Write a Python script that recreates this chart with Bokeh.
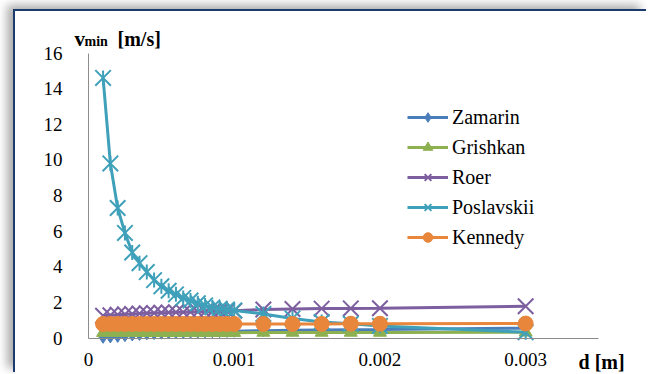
import math
from bokeh.plotting import figure
from bokeh.models import Range1d, FixedTicker, CustomJSTickFormatter, Label, Legend, LegendItem
from bokeh.embed import file_html
from bokeh.resources import INLINE

# ---- data ----
d = [0.0001, 0.00015, 0.0002, 0.00025, 0.0003, 0.00035, 0.0004, 0.00045, 0.0005,
     0.00055, 0.0006, 0.00065, 0.0007, 0.00075, 0.0008, 0.00085, 0.0009, 0.00095,
     0.001, 0.0012, 0.0014, 0.0016, 0.0018, 0.002, 0.003]

zamarin = [0.04, 0.06, 0.09, 0.13, 0.17, 0.20, 0.23, 0.25, 0.27, 0.29, 0.30, 0.31,
           0.32, 0.33, 0.34, 0.35, 0.36, 0.37, 0.38, 0.41, 0.43, 0.45, 0.47, 0.48, 0.55]
grishkan = [0.30, 0.30, 0.30, 0.30, 0.30, 0.30, 0.30, 0.30, 0.30, 0.30, 0.30, 0.30,
            0.30, 0.30, 0.30, 0.30, 0.30, 0.30, 0.30, 0.31, 0.31, 0.31, 0.31, 0.31, 0.32]
roer = [1.25, 1.28, 1.31, 1.33, 1.35, 1.37, 1.39, 1.40, 1.42, 1.43, 1.44, 1.45,
        1.46, 1.47, 1.48, 1.49, 1.50, 1.51, 1.53, 1.60, 1.63, 1.65, 1.66, 1.67, 1.78]
poslavskii = [14.6, 9.8, 7.3, 5.9, 4.8, 4.2, 3.7, 3.25, 2.9, 2.65, 2.45, 2.25,
              2.1, 1.95, 1.83, 1.72, 1.65, 1.6, 1.55, 1.35, 1.1, 0.9, 0.8, 0.68, 0.32]
kennedy = [0.79, 0.79, 0.79, 0.79, 0.79, 0.79, 0.79, 0.79, 0.79, 0.79, 0.79, 0.79,
           0.79, 0.79, 0.79, 0.79, 0.79, 0.79, 0.79, 0.79, 0.79, 0.79, 0.80, 0.80, 0.81]

series_names = ["Zamarin", "Grishkan", "Roer", "Poslavskii", "Kennedy"]
series_values = [zamarin, grishkan, roer, poslavskii, kennedy]
series_colors = ["#4A7EBB", "#8DB050", "#7D5FA0", "#3FA0BA", "#E8863C"]
series_markers = ["diamond", "triangle", "x", "star6", "circle"]
marker_sizes = [12, 13, 22, 22, 15]

x_ticks = [0, 0.001, 0.002, 0.003]
y_ticks = [0, 2, 4, 6, 8, 10, 12, 14, 16]
x_axis_span = (0, 0.0035)
y_axis_span = (0, 16)

FONT = "Liberation Serif"

# The plot frame fills the whole canvas; the axes are pinned at x=0 / y=0 so the
# axis titles (placed just outside the axes) stay inside the drawable frame.
p = figure(width=633, height=363, output_backend="svg", toolbar_location=None,
           x_range=Range1d(-0.000501, 0.003843), y_range=Range1d(-2.049, 18.33),
           min_border_left=0, min_border_right=0, min_border_top=0, min_border_bottom=0)
p.margin = (11, 0, 0, 15)
p.styles = {"box-shadow": "-2px -2px 0 0 #1B3A6E, -8px -6px 9px rgba(0,0,0,0.33)"}
p.outline_line_color = None
p.xgrid.visible = False
p.ygrid.visible = False
p.background_fill_color = "white"
p.border_fill_color = "white"

for ax in (p.xaxis[0], p.yaxis[0]):
    ax.fixed_location = 0
    ax.axis_line_color = "#8C8C8C"
    ax.axis_line_width = 1
    ax.major_tick_line_color = None
    ax.minor_tick_line_color = None
    ax.major_label_text_font = FONT
    ax.major_label_text_font_size = "19px"
    ax.major_label_text_color = "black"

p.xaxis.ticker = FixedTicker(ticks=x_ticks)
p.xaxis.bounds = x_axis_span
p.xaxis.formatter = CustomJSTickFormatter(code="return tick == 0 ? '0' : tick.toFixed(3);")
p.xaxis.major_label_standoff = 9
p.yaxis.ticker = FixedTicker(ticks=y_ticks)
p.yaxis.bounds = y_axis_span
p.yaxis.major_label_standoff = 20

items = []
for name, vals, col, mk, ms in zip(series_names, series_values, series_colors, series_markers, marker_sizes):
    ln = p.line(d, vals, line_color=col, line_width=3)
    rends = [ln]
    if mk == "x":
        rends.append(p.scatter(d, vals, marker="x", size=ms, line_color=col, line_width=2))
    elif mk == "star6":
        # Excel-style star: an "x" plus a vertical stroke
        rends.append(p.scatter(d, vals, marker="x", size=ms, line_color=col, line_width=2))
        rends.append(p.scatter(d, vals, marker="dash", size=15, angle=math.pi / 2,
                               line_color=col, line_width=2))
    else:
        rends.append(p.scatter(d, vals, marker=mk, size=ms, fill_color=col, line_color=col))
    items.append(LegendItem(label=name, renderers=rends))

legend = Legend(items=items, location=(392, 125), glyph_width=41, glyph_height=24,
                label_height=24, spacing=6, padding=0, margin=0, label_standoff=4,
                border_line_color=None, background_fill_alpha=0,
                label_text_font=FONT, label_text_font_size="20px", label_text_color="black")
p.add_layout(legend)

title_style = dict(text_font=FONT, text_font_style="bold", text_color="black",
                   text_baseline="alphabetic")
p.add_layout(Label(x=-0.000096, y=16.81, text="v", text_font_size="21px", **title_style))
p.add_layout(Label(x=-0.0000274, y=16.63, text="min", text_font_size="14px", **title_style))
p.add_layout(Label(x=0.000199, y=16.79, text="[m/s]", text_font_size="20px", **title_style))
p.add_layout(Label(x=0.003363, y=-1.375, text="d [m]", text_font_size="20px", **title_style))

open("out.html", "w").write(file_html(p, INLINE))
